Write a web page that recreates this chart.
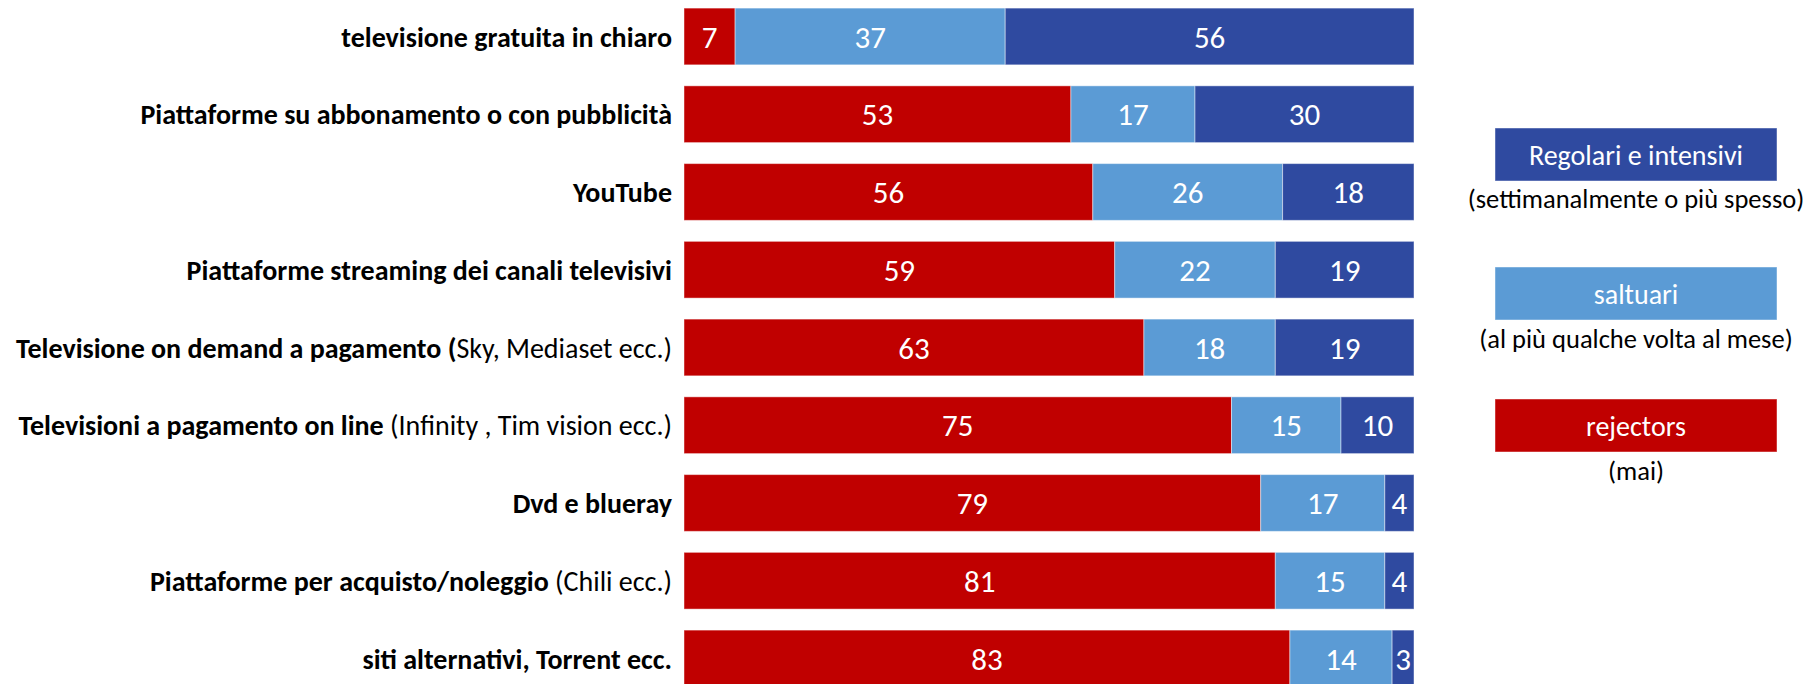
<!DOCTYPE html>
<html>
<head>
<meta charset="utf-8">
<script src="https://cdn.jsdelivr.net/npm/d3@7"></script>
<style>
  body { margin: 0; background: #fff; }
  text { font-family: Carlito, Calibri, Lato, sans-serif; }
</style>
</head>
<body>
<div id="chart"></div>
<script>
// categories: bold part + normal part
var labelBold = [
  'televisione gratuita in chiaro',
  'Piattaforme su abbonamento o con pubblicità',
  'YouTube',
  'Piattaforme streaming dei canali televisivi',
  'Televisione on demand a pagamento (',
  'Televisioni a pagamento on line',
  'Dvd e blueray',
  'Piattaforme per acquisto/noleggio',
  'siti alternativi, Torrent ecc.'
]
var labelNormal = ['', '', '', '', 'Sky, Mediaset ecc.)', ' (Infinity , Tim vision ecc.)', '', ' (Chili ecc.)', '']

var rejectors = [7, 53, 56, 59, 63, 75, 79, 81, 83]
var saltuari = [37, 17, 26, 22, 18, 15, 17, 15, 14]
var regolari = [56, 30, 18, 19, 19, 10, 4, 4, 3]

var seriesNames = ['rejectors', 'saltuari', 'regolari']
var legendTitles = ['Regolari e intensivi', 'saltuari', 'rejectors']
var legendNotes = ['(settimanalmente o più spesso)', '(al più qualche volta al mese)', '(mai)']
var legendKeys = ['regolari', 'saltuari', 'rejectors']

var width = 1806
var height = 684

var svg = d3
  .select('#chart')
  .append('svg')
  .attr('width', width)
  .attr('height', height)

var colorScale = d3
  .scaleOrdinal()
  .domain(seriesNames)
  .range(['#c00000', '#5b9bd5', '#2f4aa0'])

var rows = labelBold.map((d, i) => {
  return { i: i, rejectors: rejectors[i], saltuari: saltuari[i], regolari: regolari[i] }
})

var xPositionScale = d3
  .scaleLinear()
  .domain([0, 100])
  .range([684, 1414])

var yPositionScale = d3
  .scaleBand()
  .domain(d3.range(rows.length))
  .range([8 - 10.4, 8 + 9 * 77.75 - 10.4])
  .paddingInner(0.27)
  .paddingOuter(0.135)

var stacked = d3.stack().keys(seriesNames)(rows)

var layers = svg
  .selectAll('.layer')
  .data(stacked)
  .enter()
  .append('g')
  .attr('class', 'layer')
  .attr('fill', d => colorScale(d.key))

layers
  .selectAll('rect')
  .data(d => d)
  .enter()
  .append('rect')
  .attr('x', d => xPositionScale(d[0]))
  .attr('width', d => xPositionScale(d[1]) - xPositionScale(d[0]))
  .attr('y', d => yPositionScale(d.data.i))
  .attr('height', yPositionScale.bandwidth())
  .attr('stroke', 'white')
  .attr('stroke-opacity', 0.45)
  .attr('stroke-width', 1)

layers
  .selectAll('.value')
  .data(d => d)
  .enter()
  .append('text')
  .attr('class', 'value')
  .attr('x', d => (xPositionScale(d[0]) + xPositionScale(d[1])) / 2)
  .attr('y', d => yPositionScale(d.data.i) + yPositionScale.bandwidth() / 2)
  .attr('dy', '0.36em')
  .attr('text-anchor', 'middle')
  .attr('fill', 'white')
  .attr('font-size', 31)
  .text(d => d[1] - d[0])

// category labels
var labels = svg
  .selectAll('.cat')
  .data(rows)
  .enter()
  .append('text')
  .attr('class', 'cat')
  .attr('x', 672)
  .attr('y', d => yPositionScale(d.i) + yPositionScale.bandwidth() / 2)
  .attr('dy', '0.36em')
  .attr('text-anchor', 'end')
  .attr('font-size', 28)
  .attr('fill', '#000')

labels
  .append('tspan')
  .attr('font-weight', 'bold')
  .text(d => labelBold[d.i])

labels
  .append('tspan')
  .text(d => labelNormal[d.i])

// legend
var legend = svg
  .selectAll('.legend')
  .data(legendKeys)
  .enter()
  .append('g')
  .attr('class', 'legend')
  .attr('transform', (d, i) => 'translate(1636,' + [128, 267, 399][i] + ')')

legend
  .append('rect')
  .attr('x', -141)
  .attr('width', 282)
  .attr('height', 53)
  .attr('fill', d => colorScale(d))
  .attr('stroke', 'white')
  .attr('stroke-opacity', 0.45)

legend
  .append('text')
  .attr('y', 37)
  .attr('text-anchor', 'middle')
  .attr('fill', 'white')
  .attr('font-size', 28)
  .text((d, i) => legendTitles[i])

legend
  .append('text')
  .attr('y', (d, i) => [80, 81, 81][i])
  .attr('text-anchor', 'middle')
  .attr('fill', '#000')
  .attr('font-size', 26.5)
  .text((d, i) => legendNotes[i])
</script>
</body>
</html>
